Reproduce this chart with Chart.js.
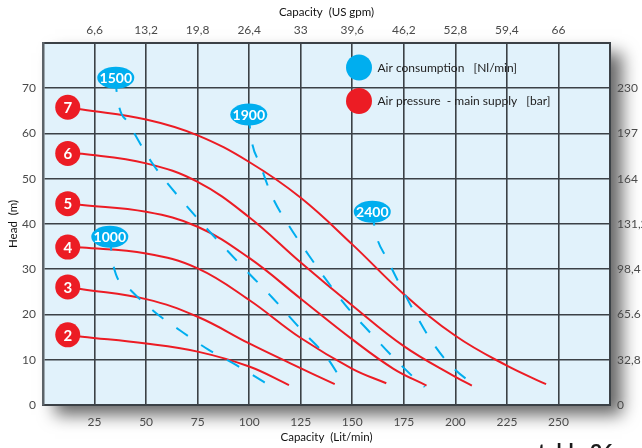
<!DOCTYPE html>
<html>
<head>
<meta charset="utf-8">
<script src="https://cdn.jsdelivr.net/npm/chart.js@4.4.1/dist/chart.umd.min.js"></script>
<style>
  html, body { margin: 0; padding: 0; background: #fff; }
  #wrap { width: 642px; height: 448px; position: relative; }
</style>
</head>
<body>
<div id="wrap"><canvas id="pumpChart" width="642" height="448"></canvas></div>
<script>
// Axis ticks
const capacityTicks = [25, 50, 75, 100, 125, 150, 175, 200, 225, 250];
const gpmLabels = ['6,6', '13,2', '19,8', '26,4', '33', '39,6', '46,2', '52,8', '59,4', '66'];
const headTicks = [0, 10, 20, 30, 40, 50, 60, 70];
const feetLabels = ['0', '32,8', '65.6', '98,4', '131,2', '164', '197', '230'];

// Air pressure curves (bar): capacity in l/min, head in m
const pressureBar = [2, 3, 4, 5, 6, 7];
const p2Flow = [12, 19, 50, 75, 100, 119.3];
const p2Head = [15.5, 15.1, 13.6, 11.8, 8.5, 4.4];
const p3Flow = [12, 19, 50, 75, 100, 120, 141.5];
const p3Head = [26.1, 25.6, 23.4, 19.5, 13.6, 9.2, 4.6];
const p4Flow = [12, 19, 50, 75, 100, 125, 150, 166.5];
const p4Head = [34.9, 34.8, 33.5, 30.2, 23.2, 14.8, 8, 4.8];
const p5Flow = [12, 19, 50, 75, 100, 125, 150, 170, 186];
const p5Head = [44.5, 44.2, 42.7, 39.4, 32.5, 23.5, 14.5, 8, 4.3];
const p6Flow = [12, 19, 50, 75, 100, 125, 150, 175, 200, 208];
const p6Head = [55.6, 55.5, 53.4, 49.3, 41.5, 31.5, 22, 13, 6.2, 4.3];
const p7Flow = [12, 19, 50, 75, 100, 125, 150, 175, 200, 225, 244];
const p7Head = [65.8, 65.3, 63.1, 59.6, 53.7, 45.8, 35.5, 24.5, 15.3, 8.7, 4.6];

// Air consumption curves (Nl/min)
const airNl = [1000, 1500, 1900, 2400];
const a1000Flow = [32.4, 34, 42.9, 54.6, 66.7, 80, 93.8, 106.7, 110];
const a1000Head = [37.2, 31.1, 25.2, 20.4, 16.4, 12.3, 8.8, 5.2, 4.2];
const a1500Flow = [35.3, 35.6, 41.2, 52.6, 67.9, 94.6, 111.5, 126.1, 137.4, 146.3];
const a1500Head = [72.3, 69.7, 62.5, 53.7, 44.9, 31.6, 23.6, 16.2, 10.7, 4.4];
const a1900Flow = [99.8, 100.7, 105.5, 111.2, 119.2, 128.9, 138.1, 148.3, 159.3, 170.6, 182.2, 185.1];
const a1900Head = [64.2, 59.8, 53, 46, 39.7, 33.1, 27.2, 21.2, 15.7, 10.2, 5.1, 4];
const a2400Flow = [159.7, 161.2, 167, 173.4, 180.3, 187.9, 196.4, 207.3, 210.2];
const a2400Head = [42.7, 38.3, 32.2, 26.3, 20.4, 14.5, 9.4, 5.1, 4.4];

const legendLabels = ['Air consumption   [Nl/min]', 'Air pressure  - main supply   [bar]'];

const RED = '#ec1c24';
const BLUE = '#00aeef';
const PLOT_BG = '#e1f2fb';
const GRID = '#3b4146';
const FONT = 'Lato, "Open Sans", sans-serif';

function toPoints(xs, ys) {
    return xs.map((x, i) => ({ x: x, y: ys[i] }));
}

const pressureFlows = [p2Flow, p3Flow, p4Flow, p5Flow, p6Flow, p7Flow];
const pressureHeads = [p2Head, p3Head, p4Head, p5Head, p6Head, p7Head];
const airFlows = [a1000Flow, a1500Flow, a1900Flow, a2400Flow];
const airHeads = [a1000Head, a1500Head, a1900Head, a2400Head];

const datasets = [];
airNl.forEach((nl, i) => {
    datasets.push({
        label: nl + ' Nl/min',
        tag: String(nl),
        kind: 'air',
        data: toPoints(airFlows[i], airHeads[i]),
        borderColor: BLUE,
        borderWidth: 2,
        borderDash: [14, 16],
        pointRadius: 0,
        cubicInterpolationMode: 'monotone',
        fill: false
    });
});
pressureBar.forEach((bar, i) => {
    datasets.push({
        label: bar + ' bar',
        tag: String(bar),
        kind: 'pressure',
        data: toPoints(pressureFlows[i], pressureHeads[i]),
        borderColor: RED,
        borderWidth: 2,
        pointRadius: 0,
        tension: 0.4,
        fill: false
    });
});

// Plot background with drop shadow
const plotBackground = {
    id: 'plotBackground',
    beforeDraw(chart) {
        const { ctx, chartArea: a } = chart;
        ctx.save();
        ctx.shadowColor = 'rgba(0, 0, 0, 0.6)';
        ctx.shadowBlur = 16;
        ctx.shadowOffsetX = 12;
        ctx.shadowOffsetY = 10;
        ctx.fillStyle = PLOT_BG;
        ctx.fillRect(a.left, a.top, a.right - a.left, a.bottom - a.top);
        ctx.restore();
    }
};

// Curve tags (bubbles / circles) and the legend
const curveTags = {
    id: 'curveTags',
    afterDatasetsDraw(chart) {
        const { ctx, chartArea: a } = chart;
        ctx.save();
        ctx.textAlign = 'center';
        ctx.textBaseline = 'middle';
        chart.data.datasets.forEach((ds, i) => {
            const p = chart.getDatasetMeta(i).data[0];
            if (!p) return;
            ctx.beginPath();
            if (ds.kind === 'air') {
                ctx.ellipse(p.x, p.y, 18.5, 11, 0, 0, Math.PI * 2);
                ctx.fillStyle = BLUE;
                ctx.fill();
                ctx.fillStyle = '#fff';
                ctx.font = 'bold 14px ' + FONT;
                ctx.fillText(ds.tag, p.x, p.y + 0.5);
            } else {
                ctx.arc(p.x, p.y, 12.5, 0, Math.PI * 2);
                ctx.fillStyle = RED;
                ctx.fill();
                ctx.fillStyle = '#fff';
                ctx.font = 'bold 15px ' + FONT;
                ctx.fillText(ds.tag, p.x, p.y + 1);
            }
        });

        // legend
        const lx = a.left + 316;
        const ly = a.top + 24.5;
        [BLUE, RED].forEach((c, i) => {
            const y = ly + i * 33.5;
            ctx.beginPath();
            ctx.arc(lx, y, 13, 0, Math.PI * 2);
            ctx.fillStyle = c;
            ctx.fill();
            ctx.textAlign = 'left';
            ctx.fillStyle = '#222';
            ctx.font = '12px ' + FONT;
            ctx.fillText(legendLabels[i], lx + 18.5, y + 0.5);
        });

        // caption at page bottom
        ctx.textAlign = 'left';
        ctx.textBaseline = 'alphabetic';
        ctx.fillStyle = '#1a1a1a';
        ctx.font = 'bold 21px ' + FONT;
        ctx.fillText('table 26', 538, 459);
        ctx.restore();
    }
};

const tickFont = { family: FONT, size: 12 };
const titleFont = { family: FONT, size: 11.5 };

new Chart(document.getElementById('pumpChart'), {
    type: 'line',
    data: { datasets: datasets },
    options: {
        responsive: false,
        animation: false,
        layout: { padding: 0 },
        plugins: {
            legend: { display: false },
            tooltip: { enabled: false }
        },
        scales: {
            x: {
                type: 'linear',
                position: 'bottom',
                min: 0,
                max: 275,
                afterFit: (s) => { s.height = 43; },
                afterBuildTicks: (s) => {
                    s.ticks = [0].concat(capacityTicks, [275]).map(v => ({ value: v }));
                },
                grid: { color: GRID, lineWidth: 1.6, drawTicks: false },
                border: { color: GRID, width: 2 },
                ticks: {
                    font: tickFont,
                    color: '#4a4a4a',
                    padding: 10,
                    maxRotation: 0,
                    autoSkip: false,
                    callback: (v) => capacityTicks.includes(v) ? String(v) : ''
                },
                title: {
                    display: true,
                    text: 'Capacity  (Lit/min)',
                    font: titleFont,
                    color: '#111',
                    padding: { top: 0, bottom: 4 }
                }
            },
            x2: {
                type: 'linear',
                position: 'top',
                min: 0,
                max: 275,
                afterFit: (s) => { s.height = 43; },
                afterBuildTicks: (s) => {
                    s.ticks = [0].concat(capacityTicks, [275]).map(v => ({ value: v }));
                },
                grid: { display: false, drawTicks: false },
                border: { color: GRID, width: 2 },
                ticks: {
                    font: tickFont,
                    color: '#4a4a4a',
                    padding: 6,
                    maxRotation: 0,
                    autoSkip: false,
                    callback: (v) => {
                        const i = capacityTicks.indexOf(v);
                        return i < 0 ? '' : gpmLabels[i];
                    }
                },
                title: {
                    display: true,
                    text: 'Capacity  (US gpm)',
                    font: titleFont,
                    color: '#111',
                    padding: { top: 5, bottom: 0 }
                }
            },
            y: {
                type: 'linear',
                position: 'left',
                min: 0,
                max: 80,
                afterFit: (s) => { s.width = 43; },
                afterBuildTicks: (s) => {
                    s.ticks = headTicks.concat([80]).map(v => ({ value: v }));
                },
                grid: { color: GRID, lineWidth: 1.6, drawTicks: false },
                border: { color: '#5c6368', width: 2.5 },
                ticks: {
                    font: tickFont,
                    color: '#4a4a4a',
                    padding: 7,
                    autoSkip: false,
                    callback: (v) => headTicks.includes(v) ? String(v) : ''
                },
                title: {
                    display: true,
                    text: 'Head  (m)',
                    font: titleFont,
                    color: '#111',
                    padding: { top: 6, bottom: 0 }
                }
            },
            y2: {
                type: 'linear',
                position: 'right',
                min: 0,
                max: 80,
                afterFit: (s) => { s.width = 32; },
                afterBuildTicks: (s) => {
                    s.ticks = headTicks.concat([80]).map(v => ({ value: v }));
                },
                grid: { display: false, drawTicks: false },
                border: { color: GRID, width: 2 },
                ticks: {
                    font: tickFont,
                    color: '#4a4a4a',
                    padding: 7,
                    autoSkip: false,
                    callback: (v) => {
                        const i = headTicks.indexOf(v);
                        return i < 0 ? '' : feetLabels[i];
                    }
                }
            }
        }
    },
    plugins: [plotBackground, curveTags]
});
</script>
</body>
</html>
